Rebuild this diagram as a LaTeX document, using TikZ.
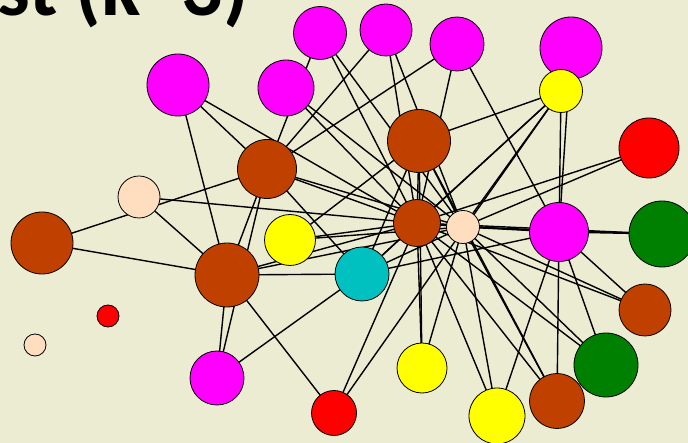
\documentclass[tikz,border=0pt]{standalone}
\usepackage{fontspec}
\setsansfont{Carlito}
\definecolor{bg}{RGB}{236,236,210}
\definecolor{mag}{RGB}{255,0,255}
\definecolor{yel}{RGB}{255,255,0}
\definecolor{brn}{RGB}{192,64,0}
\definecolor{pch}{RGB}{255,222,192}
\definecolor{rd}{RGB}{255,0,0}
\definecolor{grn}{RGB}{0,128,0}
\definecolor{cyn}{RGB}{0,192,192}
\pgfdeclarelayer{bgl}
\pgfdeclarelayer{edges}
\pgfsetlayers{bgl,edges,main}
\begin{document}
\begin{tikzpicture}[x=1pt,y=-1pt,
  vtx/.style={circle,draw=black,line width=0.8pt,inner sep=0pt},
  lnk/.style={draw=black,line width=1.4pt},
  titletext/.style={font=\sffamily\bfseries\fontsize{82}{82}\selectfont,inner sep=0pt}]
\useasboundingbox (0,0) rectangle (688,443);
\clip (0,0) rectangle (688,443);
\begin{pgfonlayer}{bgl}
\fill[bg] (0,0) rectangle (688,443);
\end{pgfonlayer}
\node[titletext,anchor=base east] (title) at (249,16) {st (k=3)};
% vertices
\node[vtx,fill=mag,minimum size=62pt] (M1) at (178,85) {};
\node[vtx,fill=mag,minimum size=56pt] (M2) at (286,88) {};
\node[vtx,fill=mag,minimum size=53pt] (M3) at (320,33) {};
\node[vtx,fill=mag,minimum size=52pt] (M4) at (386,30) {};
\node[vtx,fill=mag,minimum size=54pt] (M5) at (457,44) {};
\node[vtx,fill=mag,minimum size=62pt] (M6) at (571,48) {};
\node[vtx,fill=yel,minimum size=43pt] (Y1) at (561,91) {};
\node[vtx,fill=brn,minimum size=63pt] (B1) at (419,141) {};
\node[vtx,fill=brn,minimum size=59pt] (B2) at (267,169) {};
\node[vtx,fill=pch,minimum size=42pt] (P1) at (139,197) {};
\node[vtx,fill=brn,minimum size=62pt] (B3) at (42,243) {};
\node[vtx,fill=rd,minimum size=60pt] (R1) at (649,148) {};
\node[vtx,fill=grn,minimum size=66pt] (G1) at (662,234) {};
\node[vtx,fill=mag,minimum size=59pt] (M7) at (559,232) {};
\node[vtx,fill=pch,minimum size=33pt] (P2) at (463,227) {};
\node[vtx,fill=brn,minimum size=47pt] (B4) at (417,223) {};
\node[vtx,fill=yel,minimum size=51pt] (Y2) at (290,240) {};
\node[vtx,fill=cyn,minimum size=54pt] (C) at (362,274) {};
\node[vtx,fill=brn,minimum size=64pt] (B5) at (227,275) {};
\node[vtx,fill=rd,minimum size=22pt] (R2) at (108,316) {};
\node[vtx,fill=pch,minimum size=22pt] (P3) at (35,345) {};
\node[vtx,fill=mag,minimum size=54pt] (M8) at (217,378) {};
\node[vtx,fill=rd,minimum size=45pt] (R3) at (334,413) {};
\node[vtx,fill=yel,minimum size=50pt] (Y3) at (422,368) {};
\node[vtx,fill=yel,minimum size=56pt] (Y4) at (497,416) {};
\node[vtx,fill=brn,minimum size=55pt] (B6) at (557,401) {};
\node[vtx,fill=grn,minimum size=64pt] (G2) at (606,365) {};
\node[vtx,fill=brn,minimum size=52pt] (B7) at (645,310) {};
% edges
\begin{pgfonlayer}{edges}
\foreach \a/\b in {M1/B5,M1/B2,M1/B4,
  M2/B4,M2/P2,
  M3/B2,M3/B4,M3/P2,
  M4/B2,M4/B4,M4/P2,
  M5/B2,M5/B4,M5/M7,
  M6/M7,
  Y1/B1,Y1/M7,Y1/B4,Y1/C,Y1/P2,Y1/R3,
  B1/Y2,B1/B4,B1/Y3,B1/C,B1/P2,B1/B6,
  B2/B3,B2/B5,B2/M8,B2/C,B2/B4,B2/P2,
  B3/B5,
  P1/B4,P1/B5,
  Y2/B4,Y2/P2,
  C/B5,C/M8,C/M7,C/B4,C/P2,
  B5/B4,B5/P2,B5/R3,B5/M8,
  R3/B4,
  Y3/B4,Y3/P2,
  Y4/B4,Y4/P2,Y4/M7,
  B6/B4,B6/P2,B6/M7,
  G2/B4,G2/P2,G2/M7,
  B7/B4,B7/P2,B7/M7,
  R1/B4,R1/P2,
  G1/M7,G1/B4,G1/P2,
  M7/P2,M7/B4,
  B4/P2}
  {\draw[lnk] (\a.center) -- (\b.center);}
\end{pgfonlayer}
\end{tikzpicture}
\end{document}
